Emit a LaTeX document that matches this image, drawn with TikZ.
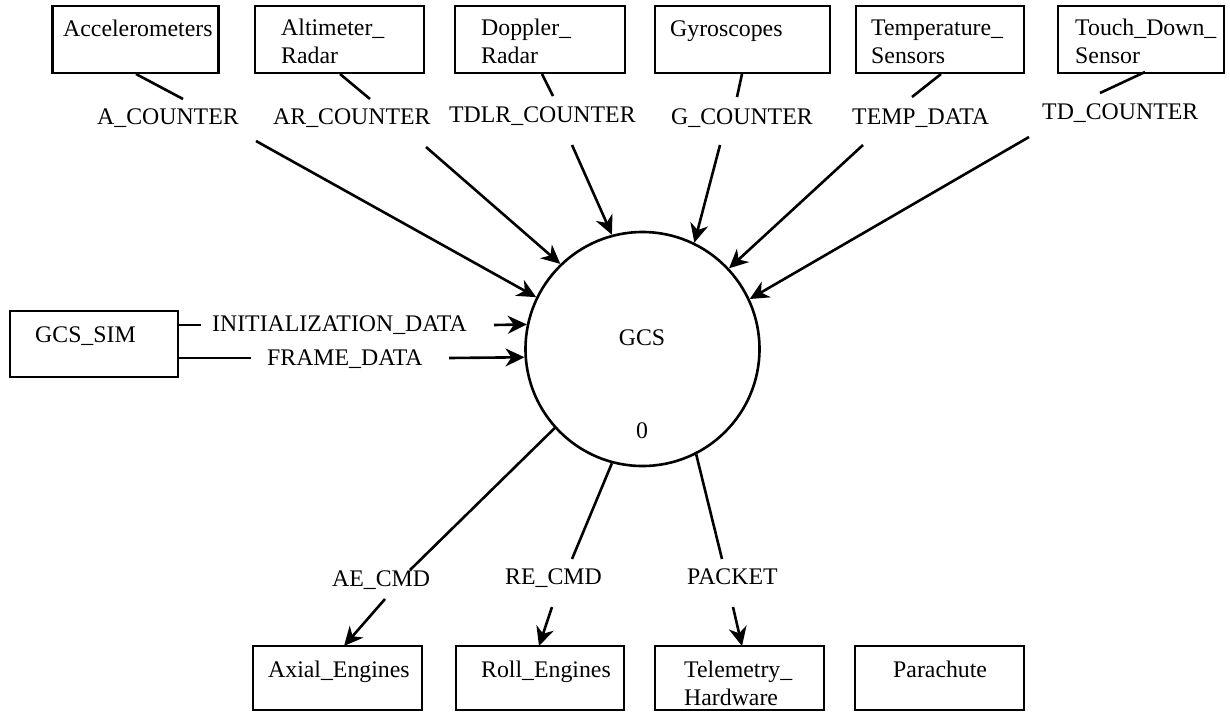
\documentclass[tikz,border=0pt]{standalone}
\usepackage{fontspec}
\setmainfont{Liberation Serif}
\usetikzlibrary{arrows.meta}
\tikzset{
  box/.style={draw, line width=2.6pt, rectangle, minimum width=#1, minimum height=67pt, inner sep=0pt},
  box/.default=168pt,
  txt/.style={inner sep=0pt, anchor=base west, align=left, font=\fontsize{23.8}{28}\selectfont},
  ctxt/.style={inner sep=0pt, anchor=base, font=\fontsize{23.8}{28}\selectfont},
  flow/.style={line width=2.6pt},
  arr/.style={line width=2.6pt, -{Stealth[length=19pt,width=18pt,inset=6pt]}},
}
\begin{document}
\begin{tikzpicture}[x=1pt, y=-1pt]
\useasboundingbox (0,0) rectangle (1230,713);
\fill[white] (0,0) rectangle (1230,713);

% central process
\node[draw, circle, line width=2.6pt, minimum size=234pt, inner sep=0pt] (gcs) at (642.5,349) {};
\node[ctxt] (gcsname) at (642,345) {GCS};
\node[ctxt] (gcsnum) at (642,438) {0};

% top boxes
\node[box=166pt] (acc) at (135.6,39.5) {};
\node[box=169pt] (alt) at (339.5,39.5) {};
\node[box=170pt] (dop) at (540,39.5) {};
\node[box=175pt] (gyr) at (742.5,39.5) {};
\node[box=168pt] (tmp) at (940,39.5) {};
\node[box=166pt] (tds) at (1141,39.5) {};

% (multi-line texts are anchored at the baseline of their last line)
\node[txt] (acct) at (63,36) {Accelerometers};
\node[txt] (altt) at (281,63) {Altimeter\_\\Radar};
\node[txt] (dopt) at (481,63) {Doppler\_\\Radar};
\node[txt] (gyrt) at (670,36) {Gyroscopes};
\node[txt] (tmpt) at (871,63) {Temperature\_\\Sensors};
\node[txt] (tdst) at (1075,63) {Touch\_Down\_\\Sensor};

% top flow labels
\node[txt] (la) at (97,124) {A\_COUNTER};
\node[txt] (lar) at (273,124) {AR\_COUNTER};
\node[txt] (ltdlr) at (449,122) {TDLR\_COUNTER};
\node[txt] (lg) at (671,124) {G\_COUNTER};
\node[txt] (ltemp) at (852,124) {TEMP\_DATA};
\node[txt] (ltd) at (1042,119) {TD\_COUNTER};

% break points of top flows
\coordinate (a1) at (136,74);   \coordinate (a2) at (183,99);   \coordinate (a3) at (256,141);
\coordinate (b1) at (340,74);   \coordinate (b2) at (370,99);   \coordinate (b3) at (426,147);
\coordinate (c1) at (542,74);   \coordinate (c2) at (553,96);   \coordinate (c3) at (572,145);
\coordinate (d1) at (742,74);   \coordinate (d2) at (737,97);   \coordinate (d3) at (720,145);
\coordinate (e1) at (941,74);   \coordinate (e2) at (912,97);   \coordinate (e3) at (863,145);
\coordinate (f1) at (1145,72);  \coordinate (f2) at (1100,93);  \coordinate (f3) at (1029,137);

\draw[flow] (a1) -- (a2);  \draw[arr] (a3) -- (gcs.154);
\draw[flow] (b1) -- (b2);  \draw[arr] (b3) -- (gcs.134.5);
\draw[flow] (c1) -- (c2);  \draw[arr] (c3) -- (gcs.105);
\draw[flow] (d1) -- (d2);  \draw[arr] (d3) -- (gcs.64.5);
\draw[flow] (e1) -- (e2);  \draw[arr] (e3) -- (gcs.43.8);
\draw[flow] (f1) -- (f2);  \draw[arr] (f3) -- (gcs.25.4);

% left terminator
\node[box=168pt, minimum height=66pt] (sim) at (94,344) {};
\node[txt] (simt) at (35,342) {GCS\_SIM};
\node[txt] (linit) at (212,331) {INITIALIZATION\_DATA};
\node[txt] (lframe) at (267,365) {FRAME\_DATA};
\coordinate (i1) at (178,325); \coordinate (i2) at (201,325); \coordinate (i3) at (494,325);
\coordinate (j1) at (178,358); \coordinate (j2) at (251,358); \coordinate (j3) at (449,358);
\draw[flow] (i1) -- (i2);  \draw[arr] (i3) -- (gcs.168.2);
\draw[flow] (j1) -- (j2);  \draw[arr] (j3) -- (gcs.184.4);

% bottom boxes
\node[box=169pt, minimum height=64pt] (axl) at (337.5,678) {};
\node[box=168pt, minimum height=64pt] (rol) at (540,678) {};
\node[box=169pt, minimum height=64pt] (tel) at (739.5,678) {};
\node[box=169pt, minimum height=64pt] (par) at (939.5,678) {};
\node[txt] (axlt) at (268,677) {Axial\_Engines};
\node[txt] (rolt) at (481,677) {Roll\_Engines};
\node[txt] (telt) at (684,705) {Telemetry\_\\Hardware};
\node[txt] (part) at (893,677) {Parachute};

% bottom flow labels
\node[txt] (lae) at (332,586) {AE\_CMD};
\node[txt] (lre) at (505,584) {RE\_CMD};
\node[txt] (lpk) at (687,584) {PACKET};

\coordinate (p2) at (410,570); \coordinate (p3) at (385,599); \coordinate (p4) at (344,646);
\coordinate (q2) at (572,559); \coordinate (q3) at (552,607); \coordinate (q4) at (539,646);
\coordinate (r2) at (722,559); \coordinate (r3) at (733,607); \coordinate (r4) at (742,646);
\draw[flow] (gcs.222) -- (p2);  \draw[arr] (p3) -- (p4);
\draw[flow] (gcs.255) -- (q2);  \draw[arr] (q3) -- (q4);
\draw[flow] (gcs.297) -- (r2);  \draw[arr] (r3) -- (r4);
\end{tikzpicture}
\end{document}
